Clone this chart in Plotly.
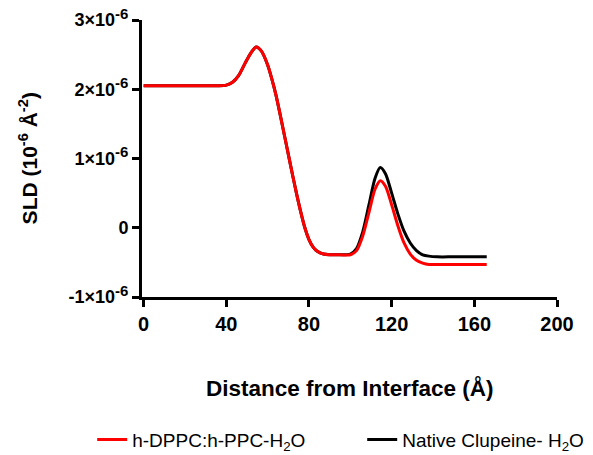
import plotly.graph_objs as go

# distance from interface (Angstrom)
distance = [0, 10, 20, 30, 36, 40, 43, 46, 49, 52, 54.5, 57, 60, 62, 64, 66, 68, 70, 72, 74,
            76, 78, 80, 82, 84, 87, 90, 95, 100, 103, 106, 109, 112, 114.5, 117, 120, 123,
            126, 129, 132, 135, 138, 142, 150, 158, 166]

# SLD in units of 1e-6 A^-2
sld_clupeine = [2.05, 2.05, 2.05, 2.05, 2.05, 2.06, 2.1, 2.2, 2.37, 2.53, 2.61, 2.55, 2.35,
                2.15, 1.92, 1.64, 1.35, 1.06, 0.77, 0.49, 0.23, 0.0, -0.17, -0.28, -0.34,
                -0.38, -0.39, -0.39, -0.38, -0.3, -0.06, 0.33, 0.72, 0.87, 0.78, 0.5, 0.2,
                -0.05, -0.22, -0.33, -0.39, -0.41, -0.42, -0.42, -0.42, -0.42]
sld_dppc = [2.05, 2.05, 2.05, 2.05, 2.05, 2.06, 2.1, 2.2, 2.37, 2.53, 2.61, 2.55, 2.35,
            2.15, 1.92, 1.64, 1.35, 1.06, 0.77, 0.49, 0.23, 0.0, -0.17, -0.28, -0.34,
            -0.38, -0.39, -0.39, -0.39, -0.33, -0.12, 0.22, 0.56, 0.68, 0.6, 0.33, 0.03,
            -0.22, -0.38, -0.47, -0.51, -0.53, -0.53, -0.53, -0.53, -0.53]

x_ticks = [0, 40, 80, 120, 160, 200]
y_ticks = [-1, 0, 1, 2, 3]
sup = '<sup><span style="font-size:15px">-6</span></sup>'
y_labels = ['-1×10' + sup, '0', '1×10' + sup, '2×10' + sup, '3×10' + sup]

font = 'Liberation Sans, Arial, sans-serif'

traces = [
    go.Scatter(
        x=distance, y=sld_clupeine,
        name='Native Clupeine- H<sub>2</sub>O',
        mode='lines',
        line=dict(color='black', width=3, shape='spline', smoothing=0.8),
    ),
    go.Scatter(
        x=distance, y=sld_dppc,
        name='h-DPPC:h-PPC-H<sub>2</sub>O',
        mode='lines',
        line=dict(color='#ff0000', width=3, shape='spline', smoothing=0.8),
    ),
]

layout = go.Layout(
    width=593,
    height=455,
    plot_bgcolor='white',
    paper_bgcolor='white',
    margin=dict(l=142, r=36, t=20, b=158, autoexpand=False),
    font=dict(family=font, color='black'),
    showlegend=True,
    legend=dict(
        orientation='h',
        traceorder='reversed',
        x=-0.12, xanchor='left',
        y=-0.515, yanchor='middle',
        entrywidth=225,
        font=dict(size=19, family=font),
    ),
    xaxis=dict(
        range=[-0.8, 200],
        tickvals=x_ticks,
        ticks='outside', ticklen=7, tickwidth=3, tickcolor='black',
        showline=True, linewidth=3, linecolor='black',
        showgrid=False, zeroline=False,
        tickfont=dict(size=20, family=font, weight='bold'),
    ),
    yaxis=dict(
        range=[-1, 3],
        tickvals=y_ticks,
        ticktext=y_labels,
        ticks='outside', ticklen=7, tickwidth=3, tickcolor='black',
        showline=True, linewidth=3, linecolor='black',
        showgrid=False, zeroline=False,
        tickfont=dict(size=18, family=font, weight='bold'),
    ),
    annotations=[
        dict(
            text='<b>Distance from Interface (Å)</b>',
            xref='paper', yref='paper', x=0.5, y=-0.3285,
            xanchor='center', yanchor='middle', showarrow=False,
            font=dict(size=22.5, family=font),
        ),
        dict(
            text='<b>SLD (10<sup>-6</sup> Å<sup>-2</sup>)</b>',
            xref='paper', yref='paper', x=-0.275, y=0.5,
            xanchor='center', yanchor='middle', showarrow=False,
            textangle=-90,
            font=dict(size=21, family=font),
        ),
    ],
)

fig = go.Figure(data=traces, layout=layout)
fig.write_html('out.html', config={'displayModeBar': False},
               post_script="document.body.style.margin='0';")
